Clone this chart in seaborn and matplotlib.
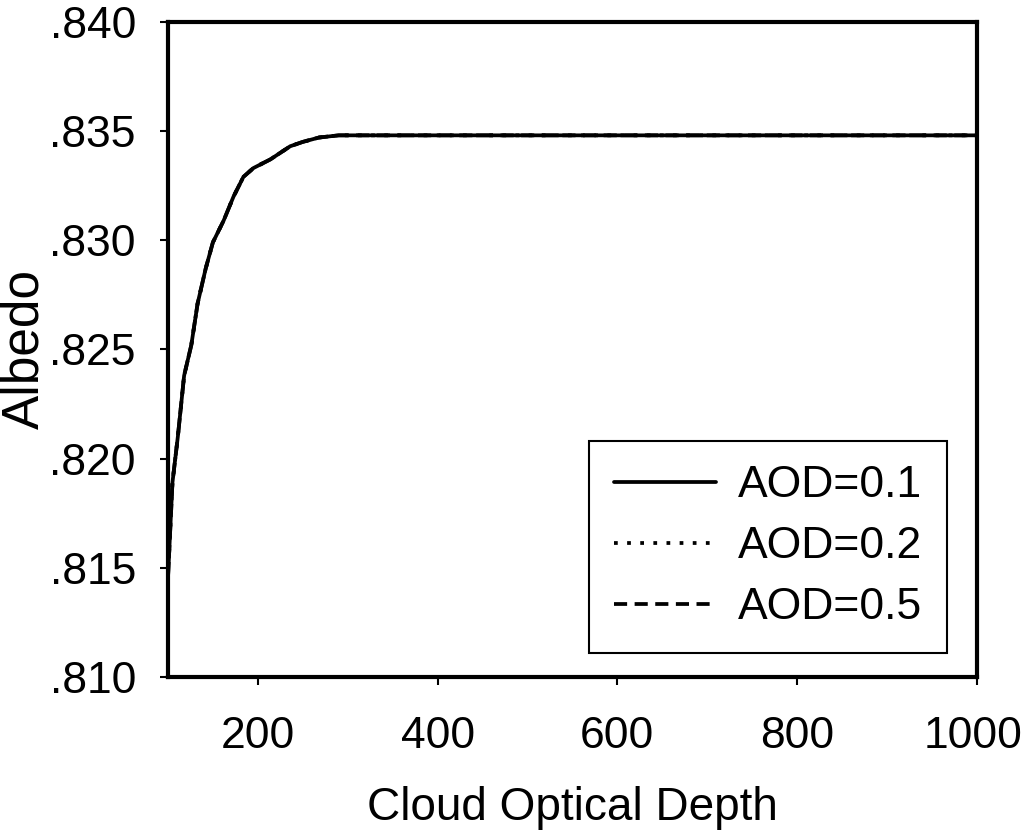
import numpy as np
import pandas as pd
import matplotlib.pyplot as plt
import matplotlib.transforms as mtrans
import seaborn as sns

# values (the three AOD curves overlap)
cod = [100, 105, 111, 118, 126, 133, 142, 150, 162, 173, 184, 195, 214, 236,
       250, 268, 290, 353, 400, 600, 800, 1000]
aod_01 = [.8145, .8189, .8210, .8238, .8252, .8271, .8287, .8299, .8309, .8320,
          .8329, .8333, .8337, .8343, .8345, .8347, .8348, .8348, .8348, .8348,
          .8348, .8348]
aod_02 = list(aod_01)
aod_05 = list(aod_01)

labels = ["AOD=0.1", "AOD=0.2", "AOD=0.5"]
styles = ["-", (0, (1, 2.5)), (0, (3.5, 2))]

sns.set_style("white")
plt.rcParams["font.family"] = ["Liberation Sans", "DejaVu Sans"]
plt.rcParams["text.color"] = "black"

fig = plt.figure(figsize=(10.24, 8.36), dpi=100)
ax = fig.add_axes([0.164, 0.190, 0.790, 0.784])

for vals, lab, ls in zip([aod_01, aod_02, aod_05], labels, styles):
    df = pd.DataFrame({"x": cod, "y": vals})
    sns.lineplot(data=df, x="x", y="y", ax=ax, color="black", linestyle=ls,
                 linewidth=2.7, label=lab)

ax.set_xlim(100, 1000)
ax.set_ylim(0.810, 0.840)
ax.set_xticks([200, 400, 600, 800, 1000])
ax.set_yticks(np.arange(0.810, 0.8401, 0.005))
ax.set_yticklabels([".810", ".815", ".820", ".825", ".830", ".835", ".840"])

for s in ax.spines.values():
    s.set_linewidth(3)
    s.set_color("black")
ax.tick_params(direction="out", length=6, width=1.5, labelsize=32,
               left=True, bottom=True, colors="black")
ax.tick_params(axis="y", pad=17)
ax.tick_params(axis="x", pad=22)

# keep the last x label inside the canvas
last = ax.get_xticklabels()[-1]
last.set_transform(last.get_transform() +
                   mtrans.ScaledTranslation(-4 / 100, 0, fig.dpi_scale_trans))

ax.set_xlabel("Cloud Optical Depth", fontsize=33, labelpad=21, color="black")
ax.set_ylabel("Albedo", fontsize=37, labelpad=0, color="black")

leg = ax.legend(loc="lower right", bbox_to_anchor=(0.963, 0.037),
                borderaxespad=0, fontsize=32,
                frameon=True, fancybox=False, handlelength=2.3,
                handletextpad=0.5, borderpad=0.55, labelspacing=0.45)
leg.get_frame().set_edgecolor("black")
leg.get_frame().set_linewidth(1.5)
leg.get_frame().set_alpha(1)

fig.savefig("out.png", dpi=100)
